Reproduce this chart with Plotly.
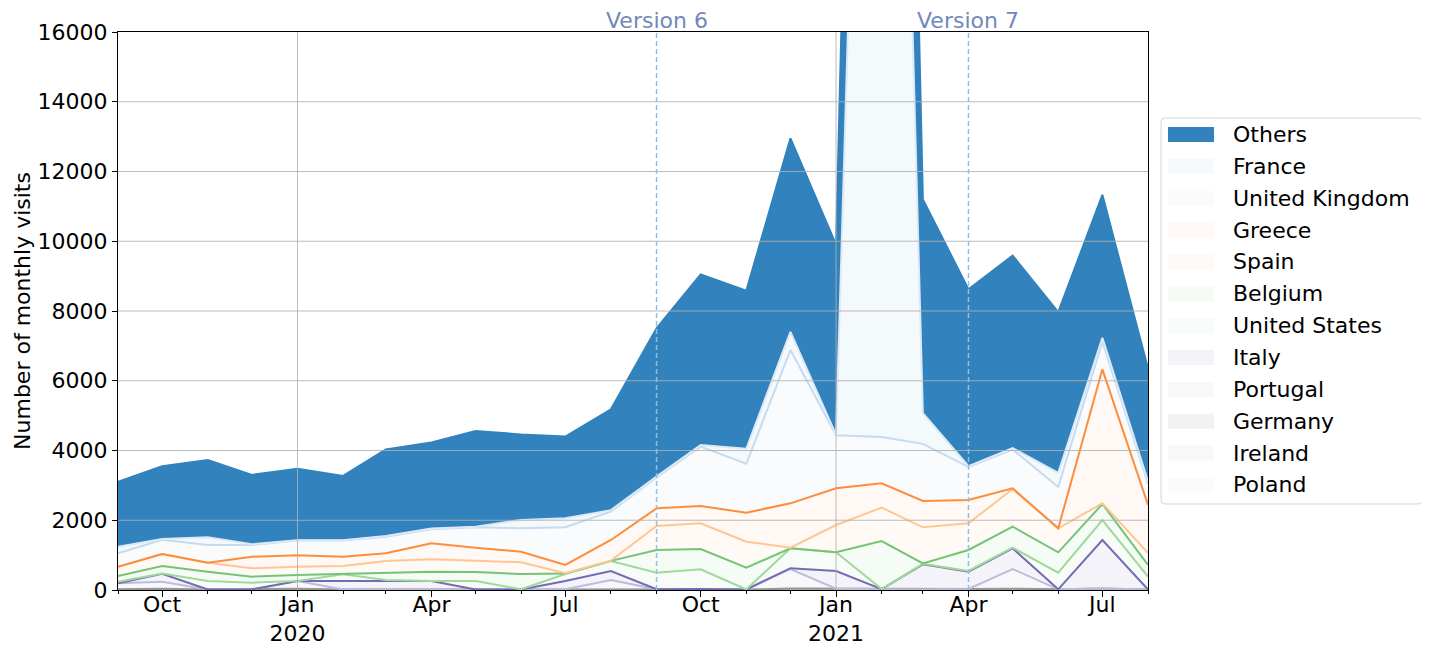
import plotly.graph_objects as go
import pandas as pd

# ---------------- data ----------------
months = pd.date_range("2019-09-01", "2021-08-01", freq="MS")

countries = ["Others", "France", "United Kingdom", "Greece", "Spain", "Belgium",
             "United States", "Italy", "Portugal", "Germany", "Ireland", "Poland"]

others   = [1860, 2090, 2220, 1990, 2050, 1840, 2480, 2470, 2745, 2450, 2340, 2890,
            4250, 4890, 4530, 5550, 5450, 14000, 6130, 5070, 5520, 4610, 4100, 3230]
france   = [190, 20, 220, 20, 10, 10, 20, 20, 15, 240, 260, 40,
            20, 50, 430, 520, 10, 44610, 880, 20, 40, 410, 110, 70]
uk       = [382, 408, 507, 335, 426, 465, 478, 402, 586, 671, 1083, 816,
            888, 1701, 1403, 4395, 1525, 1332, 1638, 949, 1115, 1182, 792, 613]
greece   = [0, 0, 0, 334, 325, 267, 220, 458, 373, 305, 239, 593,
            507, 497, 831, 1271, 1051, 697, 755, 669, 19, 0, 3843, 1377]
spain    = [267, 344, 257, 239, 239, 223, 325, 354, 325, 335, 8, 6,
            688, 736, 746, 19, 784, 956, 1037, 765, 1081, 688, 19, 343]
belgium  = [162, 213, 268, 172, 172, 15, 220, 268, 258, 439, 11, 3,
            650, 583, 625, 0, 0, 1380, 10, 602, 601, 583, 459, 335]
us       = [48, 10, 243, 190, 0, 192, 29, 0, 243, 5, 201, 287,
            477, 563, 0, 570, 535, 0, 15, 19, 19, 477, 573, 367]
italy    = [0, 226, 0, 0, 0, 243, 233, 233, 0, 0, 238, 258,
            0, 0, 0, 25, 510, 0, 720, 496, 593, 0, 1394, 0]
portugal = [166, 204, 0, 0, 223, 0, 0, 0, 0, 0, 0, 252,
            0, 0, 0, 560, 0, 0, 0, 0, 567, 0, 0, 0]
germany  = [15, 20, 10, 10, 20, 10, 15, 10, 10, 5, 10, 20,
            10, 15, 10, 25, 20, 15, 10, 15, 20, 10, 25, 10]
ireland  = [5, 10, 5, 5, 10, 5, 5, 10, 5, 5, 5, 10,
            5, 10, 5, 10, 10, 5, 5, 10, 10, 5, 10, 5]
poland   = [5, 5, 0, 5, 5, 0, 5, 5, 0, 5, 5, 5,
            5, 5, 0, 5, 5, 5, 0, 5, 5, 5, 5, 0]

series = [others, france, uk, greece, spain, belgium, us, italy, portugal,
          germany, ireland, poland]

version_dates = ["2020-09-01", "2021-04-01"]
version_labels = ["Version 6", "Version 7"]

tick_dates = ["2019-10-01", "2020-01-01", "2020-04-01", "2020-07-01",
              "2020-10-01", "2021-01-01", "2021-04-01", "2021-07-01"]
tick_text = ["Oct", "Jan<br>2020", "Apr", "Jul", "Oct", "Jan<br>2021", "Apr", "Jul"]
year_grid = ["2020-01-01", "2021-01-01"]
y_ticks = list(range(0, 16001, 2000))
y_tick_text = [str(v) for v in y_ticks]

# ---------------- styles ----------------
line_colors = ["#3182bd", "#dce9f6", "#c6dbef", "#fd8d3c", "#fdc793", "#74c476",
               "#a1d99b", "#756bb1", "#bcbddc", "#969696", "#bdbdbd", "#d9d9d9"]
fill_colors = ["#3182bd", "rgba(49,130,189,0.05)", "rgba(198,219,239,0.10)",
               "rgba(253,141,60,0.06)", "rgba(253,174,107,0.06)",
               "rgba(116,196,118,0.07)", "rgba(161,217,155,0.07)",
               "rgba(117,107,177,0.08)", "rgba(188,189,220,0.10)",
               "rgba(150,150,150,0.12)", "rgba(189,189,189,0.10)",
               "rgba(217,217,217,0.10)"]

FONT = "DejaVu Sans"
OFF = 8                       # page offset of the plot div (body margin)
W, H = 1429 - OFF, 646 - OFF
ML, MR, MT, MB = 110, 281, 24, 56
PW, PH = W - ML - MR, H - MT - MB


def px_x(p):  # window pixel -> paper x
    return (p - OFF - ML) / PW


def px_y(p):  # window pixel -> paper y
    return (OFF + H - MB - p) / PH


fig = go.Figure()

order = list(range(len(countries)))[::-1]  # bottom of stack first
for i in order:
    fig.add_trace(go.Scatter(
        x=months, y=series[i], name=countries[i], stackgroup="fill",
        mode="none", fill="tonexty", fillcolor=fill_colors[i],
        hoverinfo="skip", showlegend=False))
for i in order:
    fig.add_trace(go.Scatter(
        x=months, y=series[i], name=countries[i], stackgroup="lines",
        mode="lines", fill="none", line=dict(color=line_colors[i], width=2),
        showlegend=False, hoverinfo="skip"))

shapes = []
annotations = []
grid_col = "rgba(176,176,176,0.85)"
for yv in y_ticks[1:-1]:
    shapes.append(dict(type="line", xref="paper", yref="y", x0=0, x1=1, y0=yv, y1=yv,
                       line=dict(color=grid_col, width=1), layer="above"))
for xv in year_grid:
    shapes.append(dict(type="line", xref="x", yref="paper", x0=xv, x1=xv, y0=0, y1=1,
                       line=dict(color=grid_col, width=1), layer="above"))
for d, lab in zip(version_dates, version_labels):
    shapes.append(dict(type="line", xref="x", yref="paper", x0=d, x1=d, y0=0, y1=1,
                       line=dict(color="#93c0e0", width=1.5, dash="5px,3px"), layer="above"))
    annotations.append(dict(x=d, y=1, xref="x", yref="paper", text=lab, showarrow=False,
                            yanchor="bottom", xanchor="center", yshift=-3,
                            font=dict(family=FONT, size=22, color="#7189ba")))

# ---- legend (framed box with swatches and labels) ----
LX0, LX1, LY0, LY1 = 1161, 1422, 118, 504
r = 4
rx, ry = r / PW, r / PH
x0, x1, y0, y1 = px_x(LX0), px_x(LX1), px_y(LY1), px_y(LY0)
path = (f"M{x0+rx},{y0} L{x1-rx},{y0} Q{x1},{y0} {x1},{y0+ry} "
        f"L{x1},{y1-ry} Q{x1},{y1} {x1-rx},{y1} L{x0+rx},{y1} "
        f"Q{x0},{y1} {x0},{y1-ry} L{x0},{y0+ry} Q{x0},{y0} {x0+rx},{y0} Z")
shapes.append(dict(type="path", xref="paper", yref="paper", path=path,
                   line=dict(color="#d4d4d4", width=1), fillcolor="white", layer="above"))
first_c, step = 134.5, 31.86
for k, name in enumerate(countries):
    yc = first_c + step * k
    shapes.append(dict(type="rect", xref="paper", yref="paper",
                       x0=px_x(1168), x1=px_x(1214), y0=px_y(yc + 7.5), y1=px_y(yc - 7.5),
                       fillcolor=fill_colors[k], line=dict(width=0), layer="above"))
    annotations.append(dict(x=px_x(1231), y=px_y(yc), xref="paper", yref="paper",
                            text=name, showarrow=False, xanchor="left", yanchor="middle",
                            font=dict(family=FONT, size=22, color="black")))

fig.update_layout(
    width=W, height=H,
    margin=dict(l=ML, r=MR, t=MT, b=MB),
    paper_bgcolor="white", plot_bgcolor="white",
    font=dict(family=FONT, size=22, color="black"),
    showlegend=False,
    shapes=shapes, annotations=annotations,
)
fig.update_xaxes(
    type="date", range=[months[0], months[-1]], automargin=False,
    tickmode="array", tickvals=tick_dates, ticktext=tick_text,
    ticks="outside", ticklen=6, tickcolor="black", showgrid=False,
    ticklabelstandoff=-11,
    showline=True, linecolor="black", linewidth=1, mirror=True,
    minor=dict(ticks="outside", ticklen=3, tickcolor="black", dtick="M1",
               tick0="2019-09-01", showgrid=False),
    tickfont=dict(family=FONT, size=22), zeroline=False,
)
fig.update_yaxes(
    range=[0, 16000], tickmode="array", tickvals=y_ticks, ticktext=y_tick_text,
    automargin=False,
    ticks="outside", ticklen=5, tickcolor="black", showgrid=False,
    showline=True, linecolor="black", linewidth=1, mirror=True, zeroline=False,
    tickfont=dict(family=FONT, size=22),
    title=dict(text="Number of monthly visits", font=dict(family=FONT, size=22), standoff=0),
)

fig.write_html("out.html")
